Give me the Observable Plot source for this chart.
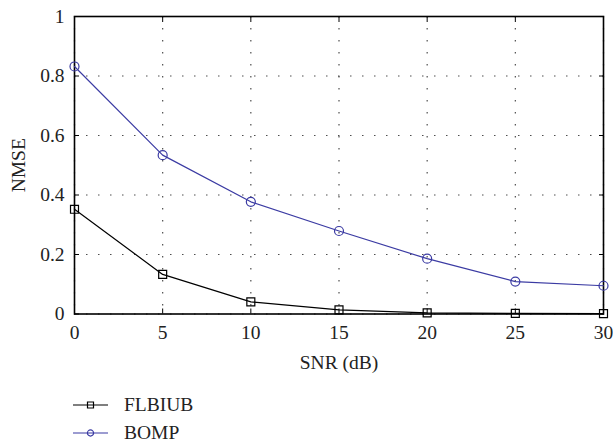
<!DOCTYPE html>
<html><head><meta charset="utf-8">
<script src="https://cdn.jsdelivr.net/npm/d3@7"></script>
<script src="https://cdn.jsdelivr.net/npm/@observablehq/plot@0.6"></script>
<style>
body{margin:0;background:#fff;font-family:"Liberation Serif",serif;}
#chart svg text{font-family:"Liberation Serif",serif !important;font-size:19.5px !important;fill:#222;}
#legend{margin-left:73px;margin-top:11px;font-size:19.5px;color:#222;font-family:"Liberation Serif",serif;}
.row{display:flex;align-items:center;height:28px;}
.row svg{margin-right:16px;}
</style>
</head><body><div id="chart"></div><div id="legend"></div>
<script>
const snr = [0, 5, 10, 15, 20, 25, 30];
const flbiub = [0.352, 0.133, 0.041, 0.014, 0.004, 0.002, 0.001];
const bomp = [0.832, 0.534, 0.377, 0.279, 0.186, 0.109, 0.095];
const seriesNames = ["FLBIUB", "BOMP"];
const seriesColors = ["#000000", "#3b3ba3"];
const seriesSymbols = ["square", "circle"];
const xTicks = [0, 5, 10, 15, 20, 25, 30];
const yTicks = [0, 0.2, 0.4, 0.6, 0.8, 1];

const values = {FLBIUB: flbiub, BOMP: bomp};
const data = seriesNames.flatMap(s => snr.map((x, i) => ({snr: x, nmse: values[s][i], series: s})));

const fmt = d => String(d);
const chart = Plot.plot({
  width: 613,
  height: 380,
  marginLeft: 74,
  marginRight: 10,
  marginTop: 16,
  marginBottom: 66.5,
  style: {fontFamily: "'Liberation Serif', serif", fontSize: "19.5px", color: "#222", background: "#fff"},
  x: {domain: [0, 30]},
  y: {domain: [0, 1]},
  color: {domain: seriesNames, range: seriesColors},
  symbol: {domain: seriesNames, range: seriesSymbols},
  marks: [
    Plot.gridX(xTicks, {stroke: "#222", strokeOpacity: 0.8, strokeWidth: 1.2, strokeDasharray: "1.5,10.5"}),
    Plot.gridY(yTicks, {stroke: "#222", strokeOpacity: 0.8, strokeWidth: 1.2, strokeDasharray: "1.5,10.5"}),
    Plot.axisX(xTicks, {anchor: "bottom", tickSize: 0, tickPadding: 11, tickFormat: fmt, label: "SNR (dB)", labelAnchor: "center", labelArrow: "none", labelOffset: 55}),
    Plot.axisX(xTicks, {anchor: "bottom", tickSize: -5, tickFormat: () => "", label: null, stroke: "#000"}),
    Plot.axisX(xTicks, {anchor: "top", tickSize: -5, tickFormat: () => "", label: null, stroke: "#000"}),
    Plot.axisY(yTicks, {anchor: "left", tickSize: 0, tickPadding: 10, tickFormat: fmt, label: "NMSE", labelAnchor: "center", labelArrow: "none", labelOffset: 63}),
    Plot.axisY(yTicks, {anchor: "left", tickSize: -5, tickFormat: () => "", label: null, stroke: "#000"}),
    Plot.axisY(yTicks, {anchor: "right", tickSize: -5, tickFormat: () => "", label: null, stroke: "#000"}),
    Plot.frame({stroke: "#000", strokeWidth: 1.6}),
    Plot.line(data, {x: "snr", y: "nmse", stroke: "series", z: "series", strokeWidth: 1.2}),
    Plot.dot(data, {x: "snr", y: "nmse", stroke: "series", symbol: "series", r: 4.5, fill: "none", strokeWidth: 1.2})
  ]
});
document.getElementById("chart").appendChild(chart);

const legend = d3.select("#legend");
seriesNames.forEach((name, i) => {
  const row = legend.append("div").attr("class", "row");
  const svg = row.append("svg").attr("width", 35).attr("height", 14);
  svg.append("line").attr("x1", 0).attr("x2", 35).attr("y1", 7).attr("y2", 7)
    .attr("stroke", seriesColors[i]).attr("stroke-width", 1.2);
  const sym = d3.symbol(seriesSymbols[i] === "square" ? d3.symbolSquare : d3.symbolCircle, seriesSymbols[i] === "square" ? 36 : 30);
  svg.append("path").attr("d", sym()).attr("transform", "translate(17.5,7)")
    .attr("fill", "none").attr("stroke", seriesColors[i]).attr("stroke-width", 1.2);
  row.append("span").text(name);
});
</script>
</body></html>
